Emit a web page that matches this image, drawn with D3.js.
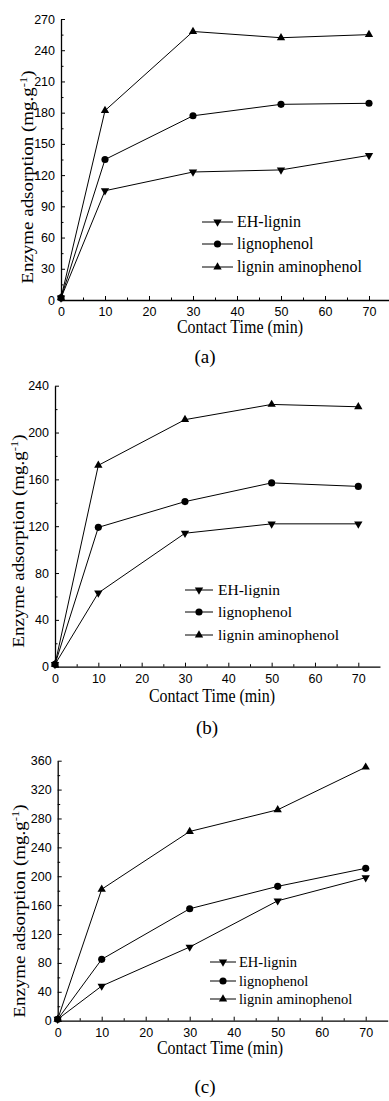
<!DOCTYPE html>
<html>
<head>
<meta charset="utf-8">
<script src="https://cdn.jsdelivr.net/npm/d3@7"></script>
<style>
  html, body { margin: 0; padding: 0; background: #fff; }
  svg { display: block; }
</style>
</head>
<body>
<div id="chart"></div>
<script>
// contact time (min), shared by all three panels
const contactTime = [0, 10, 30, 50, 70];
const seriesNames = ['EH-lignin', 'lignophenol', 'lignin aminophenol'];

// panel (a)
const aEH = [2, 105, 123, 125, 139];
const aLigno = [2, 135, 177, 188, 189];
const aAmino = [2, 182, 258, 252, 255];
const aYTicks = [0, 30, 60, 90, 120, 150, 180, 210, 240, 270];

// panel (b)
const bEH = [2, 63, 114, 122, 122];
const bLigno = [2, 119, 141, 157, 154];
const bAmino = [2, 172, 211, 224, 222];
const bYTicks = [0, 40, 80, 120, 160, 200, 240];

// panel (c)
const cEH = [2, 48, 102, 166, 198];
const cLigno = [2, 85, 155, 186, 211];
const cAmino = [2, 182, 262, 292, 351];
const cYTicks = [0, 40, 80, 120, 160, 200, 240, 280, 320, 360];

const xTicks = [0, 10, 20, 30, 40, 50, 60, 70];
const xMinor = [5, 15, 25, 35, 45, 55, 65];

const SERIF = "'Liberation Serif', 'Times New Roman', Times, serif";
const SANS = "'Liberation Sans', Arial, Helvetica, sans-serif";

const W = 389, H = 1101;
const svg = d3.select('#chart').append('svg').attr('width', W).attr('height', H);

// layout of each panel (pixels)
const panels = [
  { series: [aEH, aLigno, aAmino], yTicks: aYTicks, yMax: 270,
    x0: 61, x10: 44, yTop: 19, yBot: 300,
    xTitle: [240, 333], yTitle: [33, 177], tag: '(a)', tagPos: [205, 363],
    legend: { x1: 202, x2: 233, tx: 237, ys: [222, 244, 267], fs: 16 } },
  { series: [bEH, bLigno, bAmino], yTicks: bYTicks, yMax: 240,
    x0: 55, x10: 43.33, yTop: 385.7, yBot: 666.7,
    xTitle: [212, 702], yTitle: [24, 541], tag: '(b)', tagPos: [207, 734],
    legend: { x1: 185, x2: 213, tx: 218, ys: [590, 612, 635], fs: 15.5 } },
  { series: [cEH, cLigno, cAmino], yTicks: cYTicks, yMax: 360,
    x0: 57.7, x10: 44, yTop: 760.7, yBot: 1020.7,
    xTitle: [220, 1054], yTitle: [25, 911], tag: '(c)', tagPos: [205, 1093],
    legend: { x1: 210, x2: 236, tx: 239, ys: [962, 981, 999], fs: 14.5 } }
];

const symbols = [
  { type: d3.symbolTriangle, size: 30, rot: 180 },
  { type: d3.symbolCircle, size: 40, rot: 0 },
  { type: d3.symbolTriangle, size: 30, rot: 0 }
];

panels.forEach(p => {
  const x = d3.scaleLinear().domain([0, 75]).range([p.x0, p.x0 + p.x10 * 7.5]);
  const y = d3.scaleLinear().domain([0, p.yMax]).range([p.yBot, p.yTop]);
  const step = p.yTicks[1] - p.yTicks[0];
  const yMinor = p.yTicks.slice(0, -1).map(v => v + step / 2);

  const g = svg.append('g');

  const styleAxis = a => {
    a.attr('font-family', SANS).attr('font-size', 12.5);
    a.selectAll('text').attr('fill', '#000').attr('font-weight', 'normal');
    a.select('.domain').attr('stroke-width', 1.3);
  };

  // x axis, ticks pointing inward
  g.append('g').attr('transform', `translate(0,${p.yBot})`)
    .call(d3.axisBottom(x).tickValues(xTicks).tickSizeInner(-4).tickSizeOuter(0).tickPadding(7))
    .call(styleAxis);
  g.append('g').attr('transform', `translate(0,${p.yBot})`)
    .call(d3.axisBottom(x).tickValues(xMinor).tickSizeInner(-2.5).tickSizeOuter(0).tickFormat(''))
    .call(a => a.select('.domain').remove());

  // y axis
  g.append('g').attr('transform', `translate(${p.x0},0)`)
    .call(d3.axisLeft(y).tickValues(p.yTicks).tickSizeInner(-4).tickSizeOuter(0).tickPadding(6))
    .call(styleAxis);
  g.append('g').attr('transform', `translate(${p.x0},0)`)
    .call(d3.axisLeft(y).tickValues(yMinor).tickSizeInner(-2.5).tickSizeOuter(0).tickFormat(''))
    .call(a => a.select('.domain').remove());

  const line = d3.line().x((d, i) => x(contactTime[i])).y(d => y(d));

  p.series.forEach((vals, k) => {
    g.append('path').datum(vals)
      .attr('d', line).attr('fill', 'none').attr('stroke', '#000').attr('stroke-width', 1);
    g.selectAll(null).data(vals).enter().append('path')
      .attr('d', d3.symbol().type(symbols[k].type).size(symbols[k].size))
      .attr('transform', (d, i) => `translate(${x(contactTime[i])},${y(d)}) rotate(${symbols[k].rot})`)
      .attr('fill', '#000');
  });

  // legend
  const L = p.legend;
  seriesNames.forEach((name, k) => {
    const ly = L.ys[k];
    g.append('line').attr('x1', L.x1).attr('x2', L.x2).attr('y1', ly).attr('y2', ly)
      .attr('stroke', '#000').attr('stroke-width', 1);
    g.append('path')
      .attr('d', d3.symbol().type(symbols[k].type).size(symbols[k].size))
      .attr('transform', `translate(${(L.x1 + L.x2) / 2},${ly}) rotate(${symbols[k].rot})`)
      .attr('fill', '#000');
    g.append('text')
      .attr('font-family', SERIF).attr('font-weight', 'normal').attr('font-size', L.fs)
      .attr('x', L.tx).attr('y', ly + L.fs * 0.33)
      .text(name);
  });

  // axis titles
  g.append('text')
    .attr('font-family', SERIF).attr('font-weight', 'normal').attr('font-size', 16)
    .attr('text-anchor', 'middle')
    .attr('transform', `translate(${p.xTitle[0]},${p.xTitle[1]}) scale(1,1.12)`)
    .text('Contact Time (min)');

  const yt = g.append('text')
    .attr('font-family', SERIF).attr('font-weight', 'normal').attr('font-size', 16.5)
    .attr('text-anchor', 'middle')
    .attr('transform', `translate(${p.yTitle[0]},${p.yTitle[1]}) rotate(-90) scale(1.15,1)`);
  yt.append('tspan').text('Enzyme adsorption (mg.g');
  yt.append('tspan').attr('dy', -6).attr('font-size', 11).text('-1');
  yt.append('tspan').attr('dy', 6).text(')');

  g.append('text')
    .attr('font-family', SERIF).attr('font-weight', 'normal').attr('font-size', 19)
    .attr('text-anchor', 'middle')
    .attr('x', p.tagPos[0]).attr('y', p.tagPos[1])
    .text(p.tag);
});
</script>
</body>
</html>
